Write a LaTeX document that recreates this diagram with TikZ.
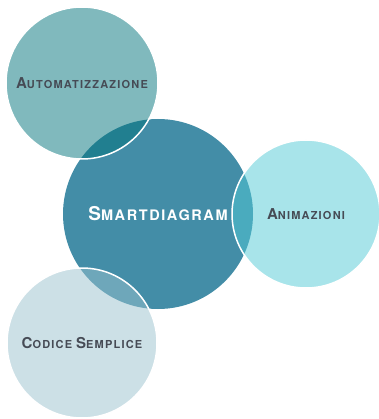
\documentclass[tikz,border=0pt]{standalone}
\usepackage{fontspec}
\newfontfamily\hv{TeX Gyre Heros}[LetterSpace=11]
\definecolor{cmain}{RGB}{67,141,167}
\definecolor{csatA}{RGB}{1,115,123}
\definecolor{csatB}{RGB}{81,201,213}
\definecolor{csatC}{RGB}{153,193,205}
\definecolor{ctext}{RGB}{70,75,85}
% fake small caps: #1 big initial, #2 rest (already upper case)
\newcommand{\satsc}[2]{{\fontsize{15}{17}\selectfont #1}{\fontsize{11}{13}\selectfont #2}}
\newcommand{\mainsc}[2]{{\fontsize{19}{21}\selectfont #1}{\fontsize{14.5}{16}\selectfont #2}}
\tikzset{
  mainbub/.style={circle, fill=cmain, minimum size=190pt, inner sep=0pt,
    text=white, font=\hv\bfseries},
  satbub/.style={circle, minimum size=#1, inner sep=0pt, fill opacity=0.5,
    text opacity=1, draw=white, draw opacity=1, line width=1.5pt,
    text=ctext, font=\hv\bfseries},
}
\begin{document}
\begin{tikzpicture}[x=1pt,y=-1pt]
\useasboundingbox (0,0) rectangle (378,419);
\node[mainbub] (main) at (158,214) {\mainsc{S}{MARTDIAGRAM}};
\node[satbub=152pt, fill=csatA] (auto) at (82,83) {\satsc{A}{UTOMATIZZAZIONE}};
\node[satbub=148pt, fill=csatB] (anim) at (306,214) {\satsc{A}{NIMAZIONI}};
\node[satbub=150pt, fill=csatC] (code) at (82,343) {\satsc{C}{ODICE} \satsc{S}{EMPLICE}};
\end{tikzpicture}
\end{document}
